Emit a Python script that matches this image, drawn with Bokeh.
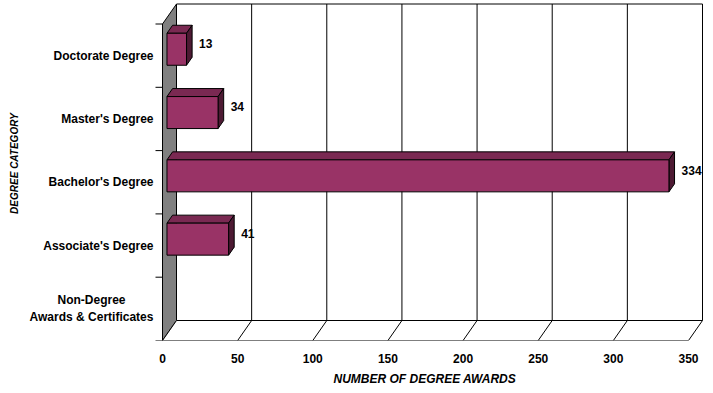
import math
from bokeh.plotting import figure
from bokeh.models import Range1d, FixedTicker, ColumnDataSource, Title
from bokeh.core.properties import value
from bokeh.embed import file_html
from bokeh.resources import INLINE

# Degree awards by category (top to bottom as drawn)
categories = [
    "Doctorate Degree",
    "Master's Degree",
    "Bachelor's Degree",
    "Associate's Degree",
    "Non-Degree\nAwards & Certificates",
]
awards = [13, 34, 334, 41, 0]
x_ticks = [0, 50, 100, 150, 200, 250, 300, 350]

FONT = "Liberation Sans"
FRONT = "#993366"
TOP = "#7a2952"
SIDE = "#4d1a33"
WALL = "#808080"

# Pixel geometry of the pseudo-3D box
W, H = 713, 393
ORIGIN_X = 162            # px where the value axis starts
BOTTOM = 53
X_MAX = 350
SX = 526 / X_MAX          # px per award unit
N = len(categories)
SY = 63.3                 # px per category band
DX = 14 / SX              # depth offset (x) in data units
DY = 20 / SY              # depth offset (y) in data units
F0, F1 = 0.32, 0.72       # bar depth span as a fraction of the box depth
HALF = 16 / SY            # bar half-height


def px_x(px):
    """Horizontal canvas pixel -> x data value."""
    return (px - ORIGIN_X) / SX


p = figure(
    width=W, height=H, output_backend="svg", toolbar_location=None,
    x_range=Range1d(px_x(0), px_x(W)), y_range=Range1d(0, (H - BOTTOM) / SY),
    y_axis_location=None,
    min_border_left=0, min_border_right=0, min_border_top=0,
    min_border_bottom=BOTTOM,
)
p.outline_line_color = None
p.xgrid.visible = False
p.ygrid.visible = False
p.background_fill_color = "white"
p.border_fill_color = "white"

# Left wall
p.patch([0, 0, DX, DX], [0, N, N + DY, DY], fill_color=WALL,
        line_color="black", line_width=1)
# Floor
p.patch([0, X_MAX, X_MAX + DX, DX], [0, 0, DY, DY], fill_color="white",
        line_color="black", line_width=1)
inner = [v for v in x_ticks if 0 < v < X_MAX]
p.segment(x0=inner, y0=[0] * len(inner), x1=[v + DX for v in inner],
          y1=[DY] * len(inner), line_color="black", line_width=1)
# Back wall gridlines, top and right edges
p.segment(x0=[v + DX for v in inner] + [X_MAX + DX, DX],
          y0=[DY] * len(inner) + [DY, N + DY],
          x1=[v + DX for v in inner] + [X_MAX + DX, X_MAX + DX],
          y1=[N + DY] * len(inner) + [N + DY, N + DY],
          line_color="black", line_width=1)

# Category tick marks at band boundaries
bounds = list(range(N + 1))
p.segment(x0=[px_x(ORIGIN_X - 7)] * len(bounds), y0=bounds,
          x1=[0] * len(bounds), y1=bounds, line_color="black", line_width=1)

# Bars: front, top and side faces
fx, fy, tx, ty, sx_, sy_ = [], [], [], [], [], []
lx, ly, lt = [], [], []
for i, (cat, v) in enumerate(zip(categories, awards)):
    if v <= 0:
        continue
    c = N - i - 0.5
    x0, x1 = F0 * DX, v + F0 * DX
    b, t = c - HALF + F0 * DY, c + HALF + F0 * DY
    ddx, ddy = (F1 - F0) * DX, (F1 - F0) * DY
    fx.append([x0, x1, x1, x0]); fy.append([b, b, t, t])
    tx.append([x0, x1, x1 + ddx, x0 + ddx]); ty.append([t, t, t + ddy, t + ddy])
    sx_.append([x1, x1 + ddx, x1 + ddx, x1]); sy_.append([b, b + ddy, t + ddy, t])
    lx.append(v + F1 * DX + 7 / SX); ly.append(c + 0.6 * DY); lt.append(str(v))

p.patches(tx, ty, fill_color=TOP, line_color="black", line_width=1)
p.patches(sx_, sy_, fill_color=SIDE, line_color="black", line_width=1)
p.patches(fx, fy, fill_color=FRONT, line_color="black", line_width=1)

text_style = dict(text_font=value(FONT), text_font_style="bold",
                  text_font_size="12px", text_color="black",
                  text_baseline="middle")

# Value labels
p.text(x="x", y="y", text="t", source=ColumnDataSource(dict(x=lx, y=ly, t=lt)),
       text_align="left", **text_style)

# Category labels: single lines right-aligned, two-line label centred
rx, ry, rt, cx, cy, ct = [], [], [], [], [], []
for i, cat in enumerate(categories):
    c = N - i - 0.5
    lines = cat.split("\n")
    if len(lines) == 1:
        rx.append(px_x(ORIGIN_X - 9)); ry.append(c); rt.append(cat)
    else:
        k = len(lines)
        for j, line in enumerate(lines):
            cx.append(px_x(91)); cy.append(c + ((k - 1) / 2 - j) * 17 / SY)
            ct.append(line)
p.text(x="x", y="y", text="t", source=ColumnDataSource(dict(x=rx, y=ry, t=rt)),
       text_align="right", **text_style)
p.text(x="x", y="y", text="t", source=ColumnDataSource(dict(x=cx, y=cy, t=ct)),
       text_align="center", **text_style)

# Category axis title
p.text(x=[px_x(14)], y=[(H - BOTTOM - 163) / SY], text=["DEGREE CATEGORY"],
       angle=math.pi / 2, text_align="center", text_baseline="middle",
       text_font=value(FONT), text_font_style="bold italic",
       text_font_size="10px", text_color="black")

# Value axis
xa = p.xaxis[0]
xa.ticker = FixedTicker(ticks=x_ticks)
xa.bounds = (0, X_MAX)
xa.axis_line_color = None
xa.major_tick_out = 0
xa.major_tick_in = 0
xa.minor_tick_out = 0
xa.minor_tick_in = 0
xa.major_label_standoff = 13
xa.major_label_text_font = FONT
xa.major_label_text_font_style = "bold"
xa.major_label_text_font_size = "12px"
xa.major_label_text_color = "black"

p.add_layout(Title(text="NUMBER OF DEGREE AWARDS", align="left", offset=333,
                   vertical_align="middle",
                   text_font=FONT, text_font_style="bold italic",
                   text_font_size="12px", text_color="black", standoff=11),
             "below")

open("out.html", "w").write(file_html(p, INLINE))
